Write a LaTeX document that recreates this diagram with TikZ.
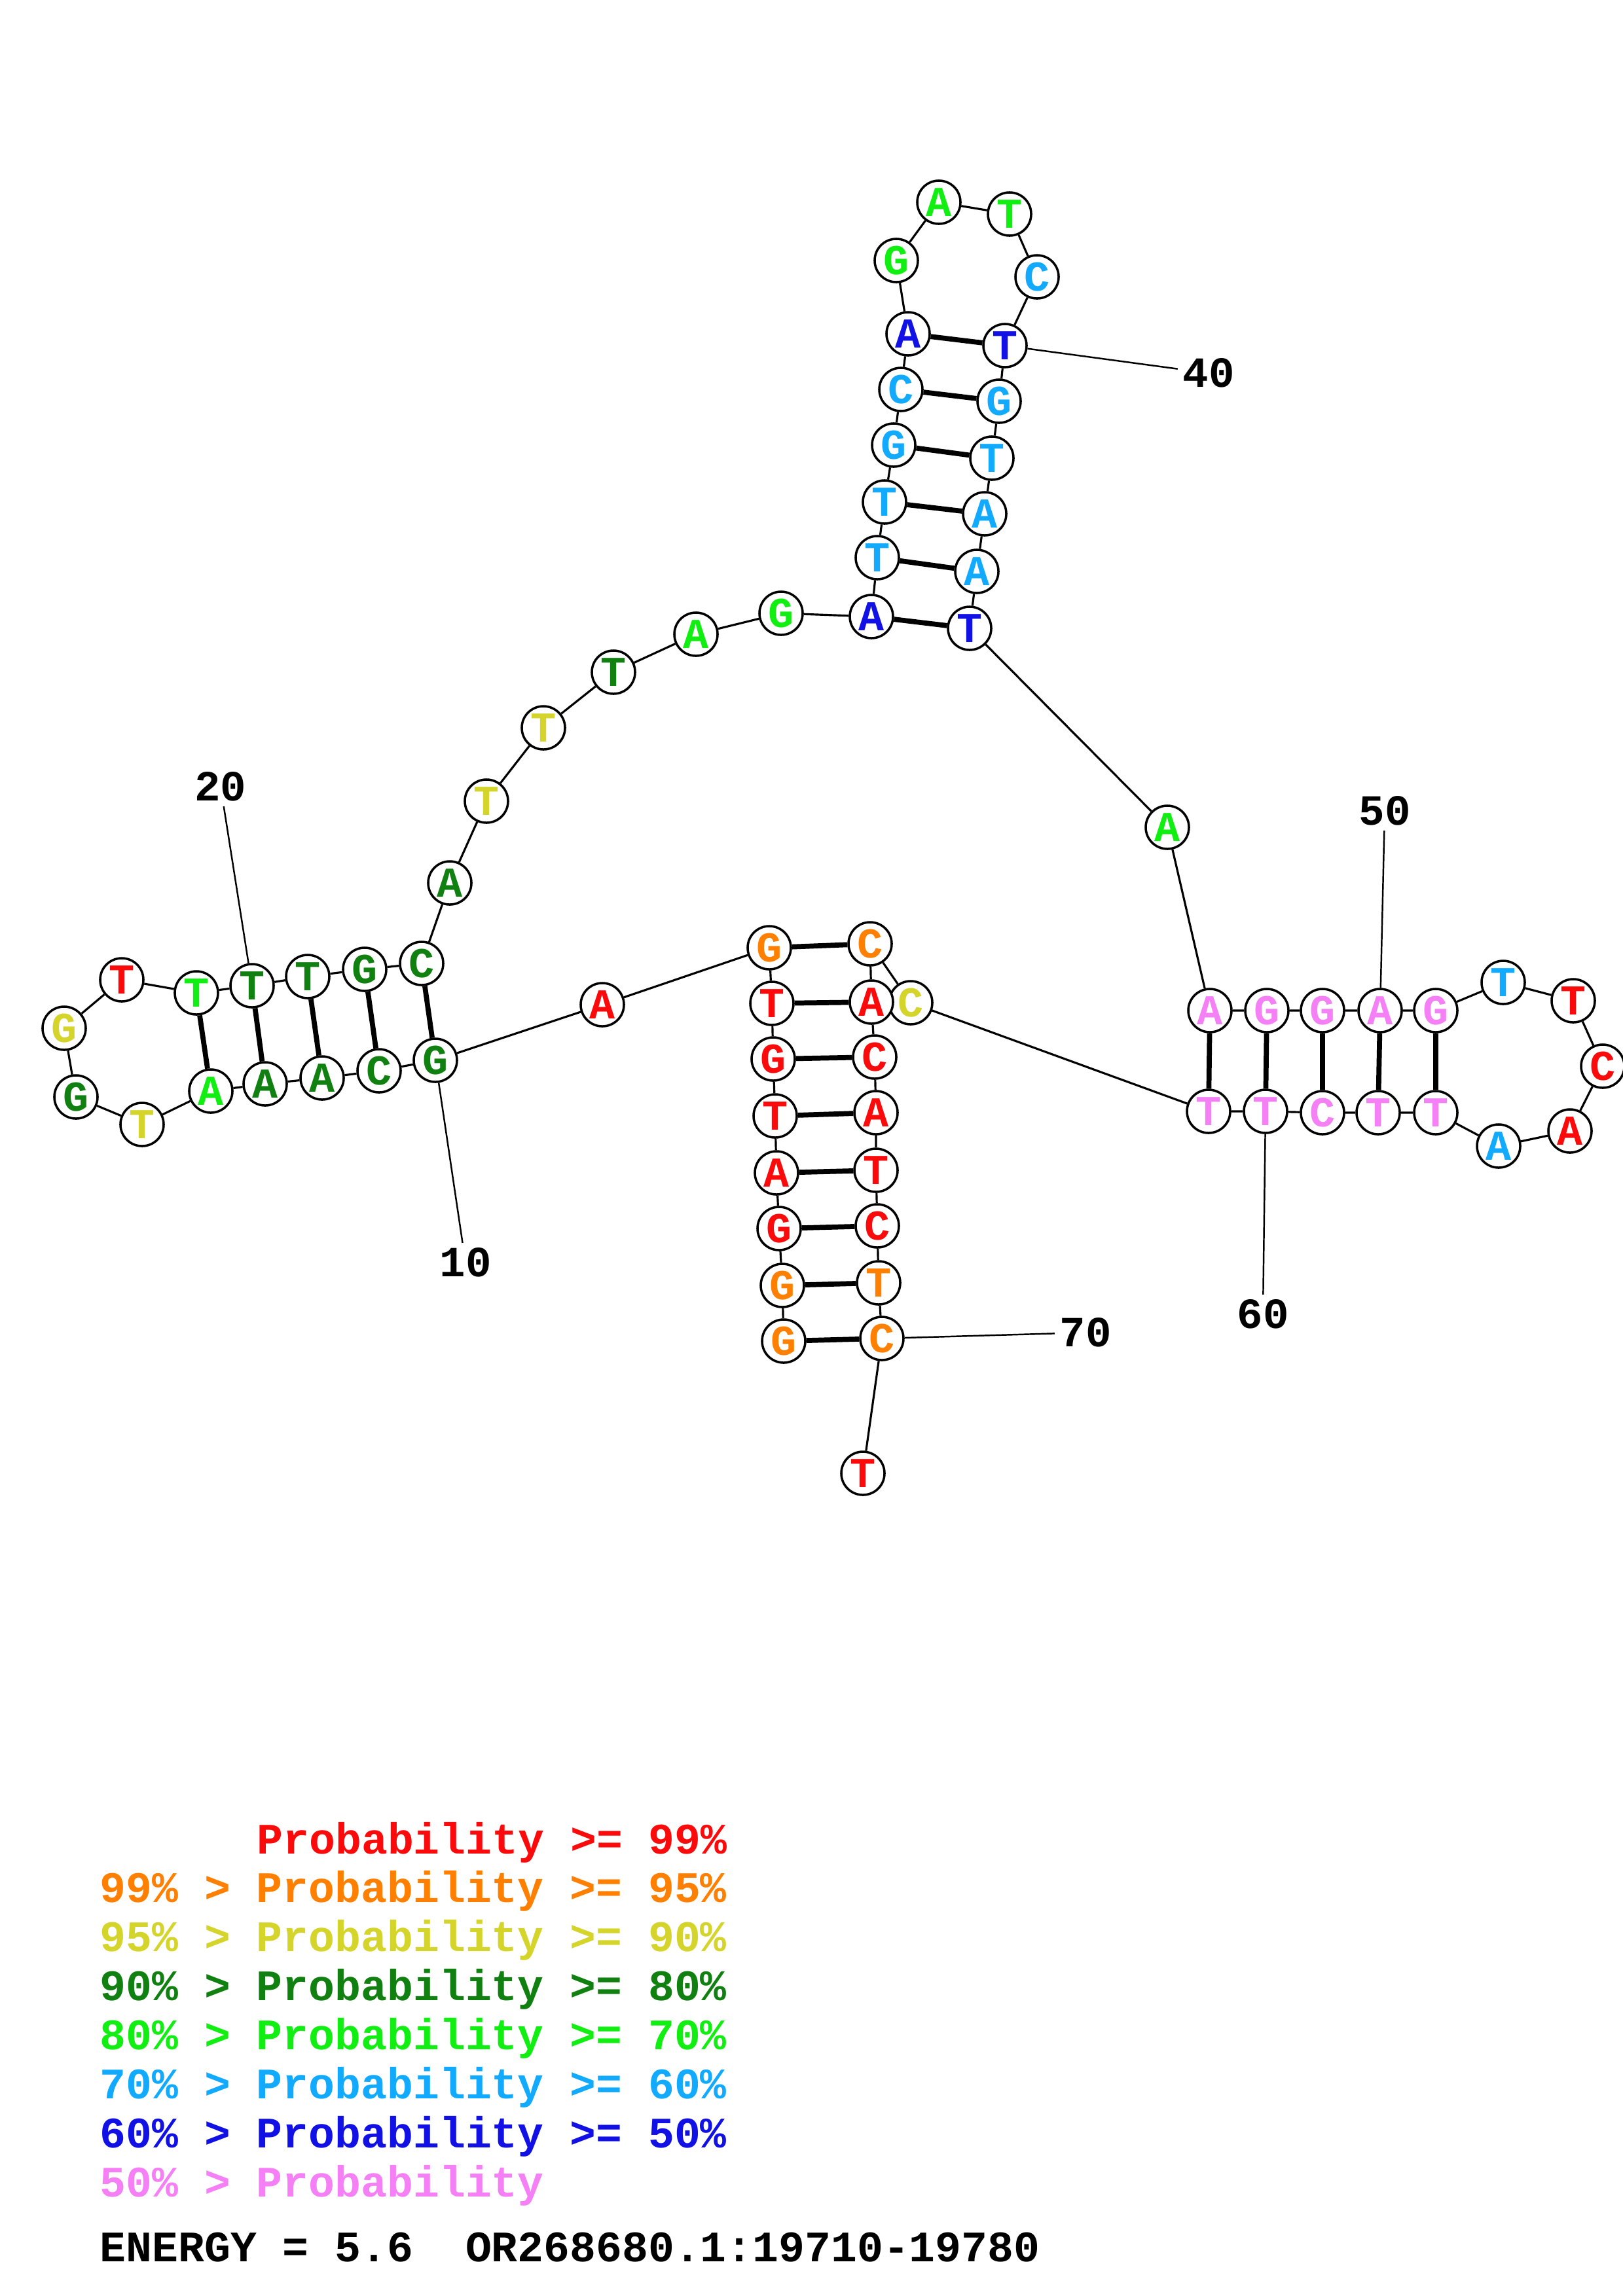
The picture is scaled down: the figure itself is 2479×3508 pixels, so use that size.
\documentclass[tikz,border=0pt]{standalone}
\usepackage{fontspec}
\setmainfont{Liberation Mono}
\definecolor{pr99}{RGB}{250,10,10}
\definecolor{pr95}{RGB}{255,128,0}
\definecolor{pr90}{RGB}{212,212,42}
\definecolor{pr80}{RGB}{16,128,16}
\definecolor{pr70}{RGB}{17,238,17}
\definecolor{pr60}{RGB}{17,170,255}
\definecolor{pr50}{RGB}{17,17,230}
\definecolor{prlow}{RGB}{245,128,245}
\begin{document}
\begin{tikzpicture}[x=0.01cm,y=-0.01cm,
    nuc/.style={circle,draw,fill=white,line width=1pt,minimum size=0.66cm,
      inner sep=0pt,font=\fontsize{18.5}{19}\selectfont\bfseries},
    b99/.style={nuc,text=pr99}, b95/.style={nuc,text=pr95},
    b90/.style={nuc,text=pr90}, b80/.style={nuc,text=pr80},
    b70/.style={nuc,text=pr70}, b60/.style={nuc,text=pr60},
    b50/.style={nuc,text=pr50}, blow/.style={nuc,text=prlow},
    chain/.style={line width=0.9pt}, pair/.style={line width=2.2pt},
    tick/.style={line width=0.7pt},
    numlab/.style={inner sep=2pt,font=\fontsize{18.7}{20}\selectfont\bfseries},
    leg/.style={anchor=west,inner sep=0pt,font=\fontsize{18.9}{20}\selectfont\bfseries}]
  \path[use as bounding box,fill=white] (0,0) rectangle (2479,3508);

  % stem 1 (5' side) and linker
  \node[b95] (n1) at (1197,2049) {G};
  \node[b95] (n2) at (1195,1964) {G};
  \node[b99] (n3) at (1190,1877) {G};
  \node[b99] (n4) at (1186,1792) {A};
  \node[b99] (n5) at (1184,1705) {T};
  \node[b99] (n6) at (1181,1618) {G};
  \node[b99] (n7) at (1179,1533) {T};
  \node[b95] (n8) at (1175,1448) {G};
  \node[b99] (n9) at (920,1535) {A};
  % left hairpin
  \node[b80] (n10) at (665,1620) {G};
  \node[b80] (n11) at (579,1636) {C};
  \node[b80] (n12) at (492,1647) {A};
  \node[b80] (n13) at (405,1656) {A};
  \node[b70] (n14) at (322,1667) {A};
  \node[b90] (n15) at (217,1718) {T};
  \node[b80] (n16) at (116,1676) {G};
  \node[b90] (n17) at (98,1571) {G};
  \node[b99] (n18) at (186,1497) {T};
  \node[b70] (n19) at (300,1517) {T};
  \node[b80] (n20) at (385,1506) {T};
  \node[b80] (n21) at (470,1492) {T};
  \node[b80] (n22) at (557,1481) {G};
  \node[b80] (n23) at (644,1472) {C};
  % arc up to the top hairpin
  \node[b80] (n24) at (687,1349) {A};
  \node[b90] (n25) at (743,1224) {T};
  \node[b90] (n26) at (830,1112) {T};
  \node[b80] (n27) at (937,1027) {T};
  \node[b70] (n28) at (1063,969) {A};
  \node[b70] (n29) at (1193,937) {G};
  % top hairpin
  \node[b50] (n30) at (1331,942) {A};
  \node[b60] (n31) at (1340,852) {T};
  \node[b60] (n32) at (1351,767) {T};
  \node[b60] (n33) at (1365,680) {G};
  \node[b60] (n34) at (1376,595) {C};
  \node[b50] (n35) at (1387,510) {A};
  \node[b70] (n36) at (1369,398) {G};
  \node[b70] (n37) at (1434,309) {A};
  \node[b70] (n38) at (1542,327) {T};
  \node[b60] (n39) at (1584,423) {C};
  \node[b50] (n40) at (1535,528) {T};
  \node[b60] (n41) at (1526,613) {G};
  \node[b60] (n42) at (1515,700) {T};
  \node[b60] (n43) at (1504,785) {A};
  \node[b60] (n44) at (1492,873) {A};
  \node[b50] (n45) at (1481,960) {T};
  \node[b70] (n46) at (1783,1264) {A};
  % right hairpin
  \node[blow] (n47) at (1848,1544) {A};
  \node[blow] (n48) at (1935,1544) {G};
  \node[blow] (n49) at (2020,1544) {G};
  \node[blow] (n50) at (2108,1544) {A};
  \node[blow] (n51) at (2193,1544) {G};
  \node[b60] (n52) at (2296,1501) {T};
  \node[b99] (n53) at (2403,1529) {T};
  \node[b99] (n54) at (2448,1629) {C};
  \node[b99] (n55) at (2398,1728) {A};
  \node[b60] (n56) at (2289,1751) {A};
  \node[blow] (n57) at (2193,1700) {T};
  \node[blow] (n58) at (2105,1700) {T};
  \node[blow] (n59) at (2020,1700) {C};
  \node[blow] (n60) at (1933,1698) {T};
  \node[blow] (n61) at (1846,1698) {T};
  % stem 1 (3' side)
  \node[b90] (n62) at (1391,1532) {C};
  \node[b95] (n63) at (1329,1442) {C};
  \node[b99] (n64) at (1331,1531) {A};
  \node[b99] (n65) at (1336,1615) {C};
  \node[b99] (n66) at (1338,1700) {A};
  \node[b99] (n67) at (1338,1788) {T};
  \node[b99] (n68) at (1340,1873) {C};
  \node[b95] (n69) at (1342,1960) {T};
  \node[b95] (n70) at (1347,2045) {C};
  \node[b99] (n71) at (1318,2251) {T};

  % backbone
  \draw[chain] (n1) -- (n2) -- (n3) -- (n4) -- (n5) -- (n6) -- (n7) -- (n8)
    -- (n9) -- (n10) -- (n11) -- (n12) -- (n13) -- (n14) -- (n15) -- (n16)
    -- (n17) -- (n18) -- (n19) -- (n20) -- (n21) -- (n22) -- (n23) -- (n24)
    -- (n25) -- (n26) -- (n27) -- (n28) -- (n29) -- (n30) -- (n31) -- (n32)
    -- (n33) -- (n34) -- (n35) -- (n36) -- (n37) -- (n38) -- (n39) -- (n40)
    -- (n41) -- (n42) -- (n43) -- (n44) -- (n45) -- (n46) -- (n47) -- (n48)
    -- (n49) -- (n50) -- (n51) -- (n52) -- (n53) -- (n54) -- (n55) -- (n56)
    -- (n57) -- (n58) -- (n59) -- (n60) -- (n61) -- (n62) -- (n63) -- (n64)
    -- (n65) -- (n66) -- (n67) -- (n68) -- (n69) -- (n70) -- (n71);

  % base pairs
  \draw[pair] (n1) -- (n70) (n2) -- (n69) (n3) -- (n68) (n4) -- (n67)
    (n5) -- (n66) (n6) -- (n65) (n7) -- (n64) (n8) -- (n63);
  \draw[pair] (n10) -- (n23) (n11) -- (n22) (n12) -- (n21) (n13) -- (n20)
    (n14) -- (n19);
  \draw[pair] (n30) -- (n45) (n31) -- (n44) (n32) -- (n43) (n33) -- (n42)
    (n34) -- (n41) (n35) -- (n40);
  \draw[pair] (n47) -- (n61) (n48) -- (n60) (n49) -- (n59) (n50) -- (n58)
    (n51) -- (n57);

  % position numbers
  \node[numlab] (l10) at (711,1929) {10};
  \node[numlab] (l20) at (337,1202) {20};
  \node[numlab] (l40) at (1846,570) {40};
  \node[numlab] (l50) at (2115,1239) {50};
  \node[numlab] (l60) at (1929,2008) {60};
  \node[numlab] (l70) at (1658,2036) {70};
  \draw[tick] (n10) -- (l10);
  \draw[tick] (n20) -- (l20);
  \draw[tick] (n40) -- (l40);
  \draw[tick] (n50) -- (l50);
  \draw[tick] (n60) -- (l60);
  \draw[tick] (n70) -- (l70);

  % legend
  \node[leg,text=pr99] (leg1) at (392,2815) {Probability >= 99\%};
  \node[leg,text=pr95] (leg2) at (152,2889) {99\% > Probability >= 95\%};
  \node[leg,text=pr90] (leg3) at (152,2964) {95\% > Probability >= 90\%};
  \node[leg,text=pr80] (leg4) at (152,3039) {90\% > Probability >= 80\%};
  \node[leg,text=pr70] (leg5) at (152,3114) {80\% > Probability >= 70\%};
  \node[leg,text=pr60] (leg6) at (152,3189) {70\% > Probability >= 60\%};
  \node[leg,text=pr50] (leg7) at (152,3264) {60\% > Probability >= 50\%};
  \node[leg,text=prlow] (leg8) at (152,3339) {50\% > Probability};
  \node[leg] (energy) at (152,3434) {ENERGY = 5.6~~OR268680.1:19710-19780};
\end{tikzpicture}
\end{document}
